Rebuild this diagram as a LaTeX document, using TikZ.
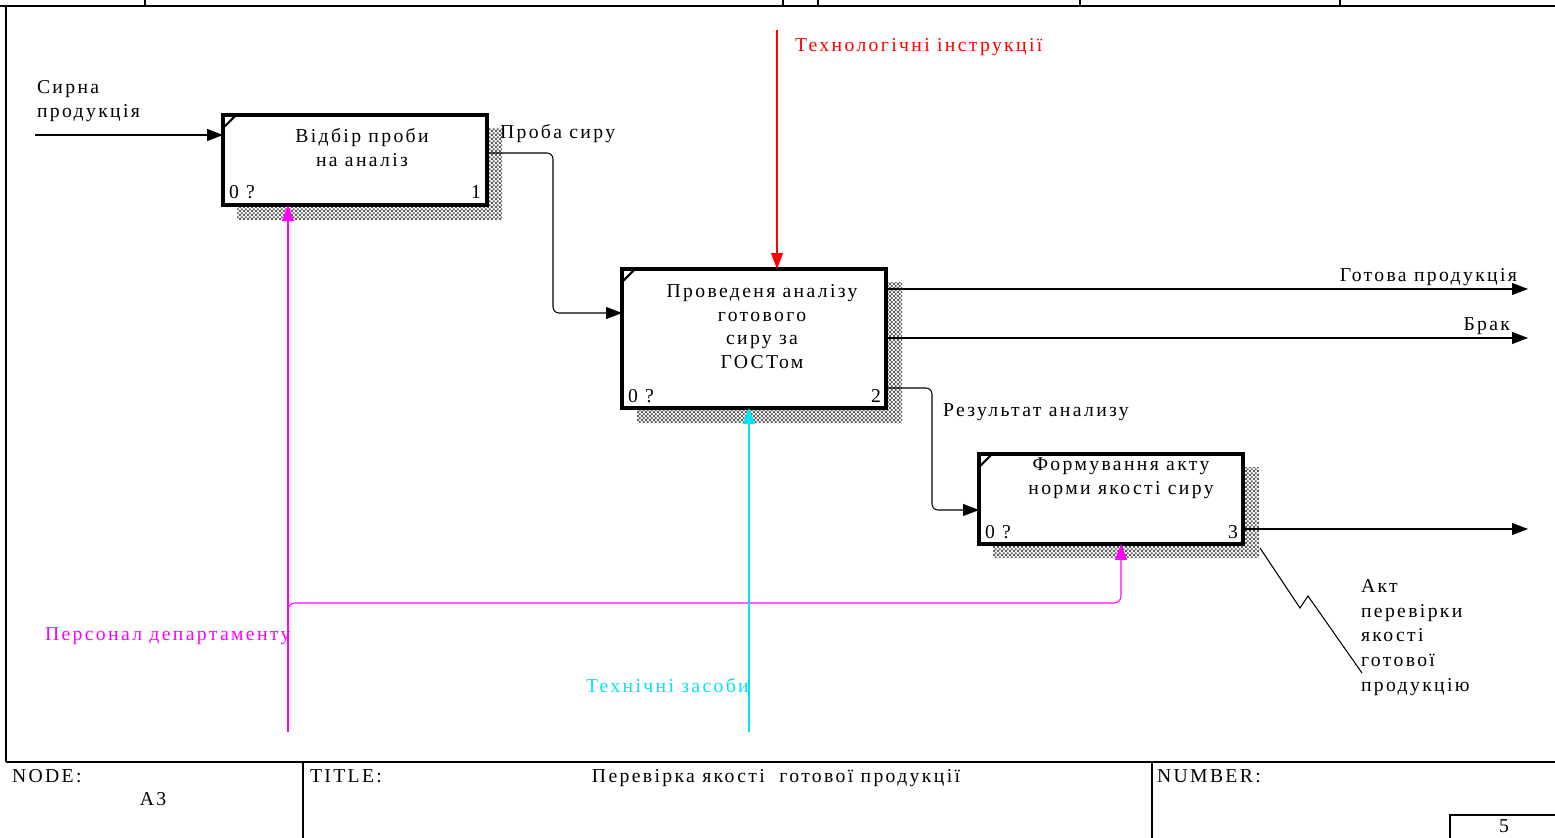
\documentclass[tikz,border=0pt]{standalone}
\usepackage{fontspec}
\setmainfont{Liberation Serif}[LetterSpace=12]
\usetikzlibrary{arrows.meta,patterns,calc}
\definecolor{mag}{RGB}{255,0,255}
\definecolor{cyn}{RGB}{0,230,240}
\definecolor{rd}{RGB}{255,0,0}
\pgfdeclarepatternformonly{idefcheck}{\pgfqpoint{0pt}{0pt}}{\pgfqpoint{2.2pt}{2.2pt}}{\pgfqpoint{2.2pt}{2.2pt}}{%
  \pgfpathrectangle{\pgfqpoint{0pt}{0pt}}{\pgfqpoint{1.1pt}{1.1pt}}%
  \pgfpathrectangle{\pgfqpoint{1.1pt}{1.1pt}}{\pgfqpoint{1.1pt}{1.1pt}}%
  \pgfusepath{fill}}
\begin{document}
\begin{tikzpicture}[x=0.02cm,y=-0.02cm,
  every node/.style={inner sep=0pt,outer sep=0pt,font=\fontsize{11.2}{13.3}\selectfont},
  box/.style={draw,line width=1.8pt,fill=white,minimum width=5.28cm},
  shadowfill/.style={fill=black!4,postaction={pattern=idefcheck,pattern color=black!62}},
  conn/.style={line width=0.6pt,-{Triangle[length=3.2mm,width=2.4mm]}},
  plain/.style={line width=0.6pt},
  lbl/.style={anchor=base west,align=left},
  frame/.style={line width=0.8pt}]
\useasboundingbox (0,0) rectangle (1555,838);
% ---- frame
\draw[frame,line width=1.2pt] (0,6) -- (1555,6);
\foreach \xx in {145,783,818,1080,1340} \draw[frame] (\xx,0) -- (\xx,6);
\draw[frame] (6,6) -- (6,762);
\draw[frame,line width=1.2pt] (6,762) -- (1555,762);
\draw[frame] (303,762) -- (303,838);
\draw[frame] (1152,762) -- (1152,838);
\draw[frame] (1450,838) -- (1450,815) -- (1555,815);
\node[lbl] (node) at (12,782) {NODE:};
\node[anchor=base] (nodeid) at (153,805) {A3};
\node[lbl] (title) at (310,782) {TITLE:};
\node[anchor=base] (titletext) at (776,782) {Перевірка якості \ готової продукції};
\node[lbl] (number) at (1157,782) {NUMBER:};
\node[anchor=base] (numval) at (1504,832) {5};
% ---- shadows
\path[shadowfill] (487,128) -- (502,128) -- (502,220) -- (237,220) -- (237,205) -- (487,205) -- cycle;
\path[shadowfill] (886,282) -- (902,282) -- (902,423) -- (637,423) -- (637,408) -- (886,408) -- cycle;
\path[shadowfill] (1243,467) -- (1259,467) -- (1259,558) -- (993,558) -- (993,544) -- (1243,544) -- cycle;
% ---- boxes
\node[box,minimum height=1.8cm] (b1) at (355,160) {};
\node[box,minimum height=2.78cm] (b2) at (754,338.5) {};
\node[box,minimum height=1.8cm] (b3) at (1111,499) {};
\foreach \b in {b1,b2,b3} \draw[line width=1.2pt] ($(\b.north west)+(0,13)$) -- ($(\b.north west)+(13,0)$);
% box texts (anchor=base is the last line's baseline)
\node[anchor=base,align=center] (t1) at (362,166) {Відбір проби\\на аналіз};
\node[lbl] (t1a) at (229,198) {0 ?};
\node[anchor=base east] (t1b) at (481,198) {1};
\node[anchor=base,align=center] (t2) at (762,368) {Проведеня аналізу\\готового\\сиру за\\ГОСТом};
\node[lbl] (t2a) at (628,402) {0 ?};
\node[anchor=base east] (t2b) at (881,402) {2};
\node[anchor=base,align=center] (t3) at (1121,494) {Формування акту\\норми якості сиру};
\node[lbl] (t3a) at (985,538) {0 ?};
\node[anchor=base east] (t3b) at (1238,538) {3};
% ---- arrows
\coordinate (in1) at (35,135);
\draw[conn] (in1) -- (in1 -| b1.west);
\node[lbl] (lin1) at (37,117) {Сирна\\продукція};
\coordinate (pa) at (553,153);
\coordinate (pb) at (553,313);
\draw[conn,rounded corners=0.12cm] (pa -| b1.east) -- (pa) -- (pb) -- (pb -| b2.west);
\node[lbl] (lpa) at (500,138) {Проба сиру};
\coordinate (ctl) at (777,30);
\draw[conn,draw=rd] (ctl) -- (ctl |- b2.north);
\node[lbl,text=rd] (lctl) at (795,52) {Технологічні інструкції};
\coordinate (o1) at (1528,289);
\draw[conn] (o1 -| b2.east) -- (o1);
\node[anchor=base east] (lo1) at (1517,281) {Готова продукція};
\coordinate (o2) at (1528,338);
\draw[conn] (o2 -| b2.east) -- (o2);
\node[anchor=base east] (lo2) at (1510,330) {Брак};
\coordinate (ra) at (932,388);
\coordinate (rb) at (932,510);
\draw[conn,rounded corners=0.12cm] (ra -| b2.east) -- (ra) -- (rb) -- (rb -| b3.west);
\node[lbl] (lra) at (943,416) {Результат анализу};
\coordinate (o3) at (1528,529);
\draw[conn] (o3 -| b3.east) -- (o3);
\coordinate (sq0) at (1260,548);
\coordinate (sq1) at (1300,608);
\coordinate (sq2) at (1308,596);
\coordinate (sq3) at (1362,673);
\draw[plain] (sq0) -- (sq1) -- (sq2) -- (sq3);
\node[lbl,font=\fontsize{11.2}{14}\selectfont] (lo3) at (1361,691) {Акт\\перевірки\\якості\\готової\\продукцію};
% mechanisms
\coordinate (m1) at (288,732);
\draw[conn,draw=mag] (m1) -- (m1 |- b1.south);
\coordinate (mj) at (288,603);
\coordinate (mk) at (1121,603);
\draw[conn,draw=mag,rounded corners=0.14cm] (288,618) -- (mj) -- (mk) -- (mk |- b3.south);
\node[lbl,text=mag] (lm1) at (45,640) {Персонал департаменту};
\coordinate (m2) at (749,732);
\draw[conn,draw=cyn] (m2) -- (m2 |- b2.south);
\node[lbl,text=cyn] (lm2) at (586,692) {Технічні засоби};
\end{tikzpicture}
\end{document}
